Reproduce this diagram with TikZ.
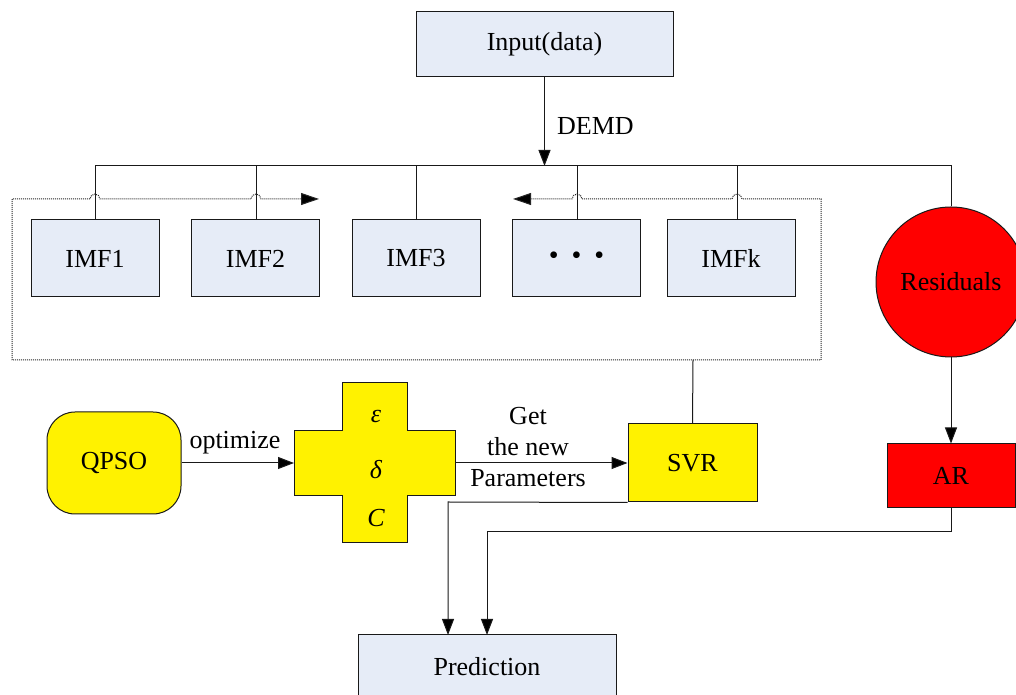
\documentclass[tikz,border=0pt]{standalone}
\usepackage{fontspec}
\setmainfont{Liberation Serif}
\usetikzlibrary{arrows.meta}
\definecolor{boxblue}{RGB}{230,236,247}
\definecolor{edge}{RGB}{25,25,25}
\tikzset{
  every node/.style={font=\fontsize{26}{31}\selectfont},
  plainbox/.style={draw=edge, line width=1pt, fill=boxblue, minimum width=128pt, minimum height=77pt, inner sep=0pt},
  yelbox/.style={draw=edge, line width=1pt, fill=yellow, inner sep=0pt},
  redbox/.style={draw=edge, line width=1pt, fill=red, inner sep=0pt},
  link/.style={draw=edge, line width=1pt},
  arr/.style={link, -{Triangle[length=16pt,width=12pt,fill=black]}},
  dotline/.style={draw=black!85, line width=1pt, dash pattern=on 1pt off 1pt},
  lbl/.style={inner sep=0pt}
}
\begin{document}
\begin{tikzpicture}[x=1pt,y=1pt]
\useasboundingbox (0,0) rectangle (1016,695);

% input and decomposition
\node[plainbox, minimum width=257pt, minimum height=65pt] (input) at (544.5,650.5) {Input(data)};
\coordinate (bus) at (544.5,529);
\draw[arr] (input.south) -- (bus);
\node[lbl, anchor=west] (demd) at (557,569) {DEMD};

% intrinsic mode functions
\node[plainbox] (imf1) at (95,436.5) {IMF1};
\node[plainbox] (imf2) at (255.5,436.5) {IMF2};
\node[plainbox] (imf3) at (416,436.5) {IMF3};
\node[plainbox] (imfd) at (576.5,436.5) {{\fontsize{28}{28}\selectfont •\hspace{13pt}•\hspace{13pt}•}};
\node[plainbox] (imfk) at (731,436.5) {IMFk};

% residual branch
\node[circle, draw=edge, line width=1pt, fill=red, minimum size=150pt, inner sep=0pt] (res) at (951,413) {Residuals};
\node[redbox, minimum width=128pt, minimum height=64pt] (ar) at (951,219) {AR};

% bus from the decomposition to every component
\draw[link] (95,475) -- (95,529) -- (951,529) -- (res.north);
\draw[link] (256,475) -- (256,529);
\draw[link] (416,475) -- (416,529);
\draw[link] (577,475) -- (577,529);
\draw[link] (737,475) -- (737,529);

% dotted frame around the components, hopping over the bus drops
\draw[dotline, {Triangle[length=18pt,width=12pt,fill=black]}-{Triangle[length=18pt,width=12pt,fill=black]}]
  (319,496) -- (261,496) arc[start angle=0, end angle=180, radius=5]
  -- (100,496) arc[start angle=0, end angle=180, radius=5]
  -- (12,496) -- (12,335) -- (821,335) -- (821,496)
  -- (742,496) arc[start angle=0, end angle=180, radius=5]
  -- (582,496) arc[start angle=0, end angle=180, radius=5]
  -- (513,496);

% optimisation and regression
\node[yelbox, rounded corners=28pt, minimum width=134pt, minimum height=102pt] (qpso) at (114,232) {QPSO};
\draw[yelbox] (294,264) -- (342,264) -- (342,312) -- (407,312) -- (407,264) -- (455,264)
  -- (455,199) -- (407,199) -- (407,152) -- (342,152) -- (342,199) -- (294,199) -- cycle;
\node[lbl] (eps) at (376,278) {\itshape ε};
\node[lbl] (del) at (376,225) {\itshape δ};
\node[lbl] (cpar) at (376,177) {\itshape C};
\coordinate (crossw) at (294,232);
\coordinate (crosse) at (455,232);
\node[yelbox, minimum width=129pt, minimum height=78pt] (svr) at (692.5,232) {SVR};

\draw[arr] (qpso.east) -- (crossw);
\node[lbl] (opt) at (235,252) {optimize};
\draw[arr] (crosse) -- (svr.west);
\node[lbl, align=center] (getp) at (528,248) {Get\\the new\\Parameters};

\draw[link] (svr.north) -- (693,335);

% prediction
\node[plainbox, minimum width=258pt, minimum height=64pt] (pred) at (487,28) {Prediction};
\draw[arr] (res.south) -- (ar.north);
\draw[arr] (svr.south west) -- (448,193) -- (448,60);
\draw[arr] (ar.south) -- (951,163) -- (487,163) -- (487,60);
\end{tikzpicture}
\end{document}
